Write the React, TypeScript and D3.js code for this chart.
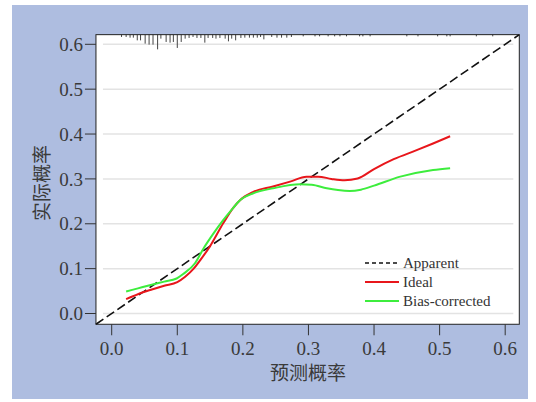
import React from "react";
import * as d3 from "d3";

const xTicks = [0, 0.1, 0.2, 0.3, 0.4, 0.5, 0.6];
const yTicks = [0, 0.1, 0.2, 0.3, 0.4, 0.5, 0.6];

const idealX = [0.022, 0.04, 0.06, 0.08, 0.1, 0.112, 0.125, 0.135, 0.15, 0.17, 0.185, 0.196, 0.216, 0.246, 0.272, 0.297, 0.315, 0.335, 0.355, 0.375, 0.4, 0.43, 0.465, 0.49, 0.516];
const idealY = [0.032, 0.043, 0.053, 0.062, 0.07, 0.082, 0.1, 0.119, 0.15, 0.201, 0.235, 0.253, 0.271, 0.283, 0.294, 0.305, 0.305, 0.3, 0.297, 0.301, 0.322, 0.344, 0.364, 0.379, 0.395];

const biasX = [0.022, 0.04, 0.058, 0.08, 0.099, 0.109, 0.127, 0.14, 0.155, 0.17, 0.185, 0.196, 0.216, 0.246, 0.287, 0.305, 0.328, 0.345, 0.363, 0.38, 0.4, 0.44, 0.49, 0.516];
const biasY = [0.049, 0.056, 0.063, 0.071, 0.078, 0.088, 0.112, 0.145, 0.178, 0.208, 0.235, 0.253, 0.268, 0.279, 0.288, 0.287, 0.279, 0.275, 0.273, 0.276, 0.285, 0.305, 0.32, 0.324];

const rugX = [0.015, 0.022, 0.028, 0.033, 0.039, 0.044, 0.051, 0.057, 0.063, 0.07, 0.075, 0.083, 0.089, 0.094, 0.1, 0.106, 0.112, 0.118, 0.124, 0.13, 0.136, 0.142, 0.147, 0.154, 0.159, 0.165, 0.173, 0.178, 0.183, 0.189, 0.197, 0.203, 0.21, 0.216, 0.222, 0.227, 0.232, 0.244, 0.252, 0.259, 0.267, 0.274, 0.292, 0.31, 0.317, 0.33, 0.34, 0.348, 0.358, 0.378, 0.383, 0.394, 0.45, 0.467, 0.497, 0.511, 0.516, 0.556, 0.581];
const rugFreq = [2.3, 2.3, 3, 3, 5.7, 5.7, 9, 10, 10, 14.7, 4, 7.3, 8, 7.3, 13.3, 7.3, 4, 3.3, 2.3, 3.3, 3.3, 8, 3.3, 3.3, 4, 3.3, 4, 6.7, 4, 5.7, 3.3, 3, 3, 3, 3, 2.3, 4.7, 2.3, 3, 3, 3, 2.3, 1.7, 1.7, 1.7, 1.7, 1.7, 1.7, 1.7, 1.7, 1.7, 1.7, 1.7, 1.7, 1.7, 1.7, 1.7, 1.7, 1.7];

const legendItems = [
  { label: "Apparent", color: "#111", dash: "4,3" },
  { label: "Ideal", color: "#e8161b", dash: "" },
  { label: "Bias-corrected", color: "#3ded3d", dash: "" },
];

const W = 536;
const H = 402;

export default function App() {
  const x = d3.scaleLinear().domain([0, 0.6]).range([111.7, 505.2]);
  const y = d3.scaleLinear().domain([0, 0.6]).range([313.5, 44.3]);
  const pad = 0.024;
  const x0 = x(-pad), x1 = x(0.6 + 0.0215);
  const yB = y(-pad), yT = y(0.6 + 0.0215);
  const rugLen = d3.scaleLinear().domain([0, 15]).range([0, 15]);

  const line = d3
    .line<[number, number]>()
    .x((d) => x(d[0]))
    .y((d) => y(d[1]))
    .curve(d3.curveMonotoneX);

  const ideal = idealX.map((v, i) => [v, idealY[i]] as [number, number]);
  const bias = biasX.map((v, i) => [v, biasY[i]] as [number, number]);

  const serif = "'Liberation Serif', 'DejaVu Serif', serif";
  const cjk = "'Noto Sans CJK SC', sans-serif";
  const textColor = "#3a3a3a";

  return (
    <svg width={W} height={H} style={{ position: "absolute", left: 0, top: 0 }}>
      <rect x={0} y={0} width={W} height={H} fill="#fff" />
      <rect x={12} y={5} width={516} height={394} fill="#aebde0" />
      <rect x={x0} y={yT} width={x1 - x0} height={yB - yT} fill="#fff" />
      {yTicks.map((t) => (
        <line key={"g" + t} x1={x0 + 7} x2={x1 - 6} y1={y(t)} y2={y(t)} stroke="#e3e3e3" strokeWidth={1.5} />
      ))}
      {rugX.map((v, i) => (
        <line key={"r" + i} x1={x(v)} x2={x(v)} y1={yT} y2={yT + rugLen(rugFreq[i])} stroke="#444" strokeWidth={1} />
      ))}
      <line x1={x0} y1={yB} x2={x1} y2={yT} stroke="#111" strokeWidth={1.6} strokeDasharray="9,4" />
      <path d={line(ideal) || ""} fill="none" stroke="#e8161b" strokeWidth={2} />
      <path d={line(bias) || ""} fill="none" stroke="#3ded3d" strokeWidth={2} />
      <rect x={x0} y={yT} width={x1 - x0} height={yB - yT} fill="none" stroke="#222" strokeWidth={1} />
      {yTicks.map((t) => (
        <g key={"y" + t}>
          <line x1={x0 - 11} x2={x0} y1={y(t)} y2={y(t)} stroke="#333" strokeWidth={1} />
          <text x={x0 - 13} y={y(t)} dy="0.35em" textAnchor="end" fontFamily={serif} fontSize={19} fill={textColor}>
            {t.toFixed(1)}
          </text>
        </g>
      ))}
      {xTicks.map((t) => (
        <g key={"x" + t}>
          <line x1={x(t)} x2={x(t)} y1={yB} y2={yB + 11} stroke="#333" strokeWidth={1} />
          <text x={x(t)} y={355} textAnchor="middle" fontFamily={serif} fontSize={19} fill={textColor}>
            {t.toFixed(1)}
          </text>
        </g>
      ))}
      <text x={308} y={380} textAnchor="middle" fontFamily={cjk} fontSize={19} fill={textColor}>
        预测概率
      </text>
      <text transform="translate(49,183) rotate(-90)" textAnchor="middle" fontFamily={cjk} fontSize={19} fill={textColor}>
        实际概率
      </text>
      {legendItems.map((d, i) => {
        const ly = 263 + i * 19;
        return (
          <g key={d.label}>
            <line x1={365} x2={399} y1={ly} y2={ly} stroke={d.color} strokeWidth={d.dash ? 1.6 : 2} strokeDasharray={d.dash || undefined} />
            <text x={403} y={ly} dy="0.33em" fontFamily={serif} fontSize={15} fill="#333">
              {d.label}
            </text>
          </g>
        );
      })}
    </svg>
  );
}
